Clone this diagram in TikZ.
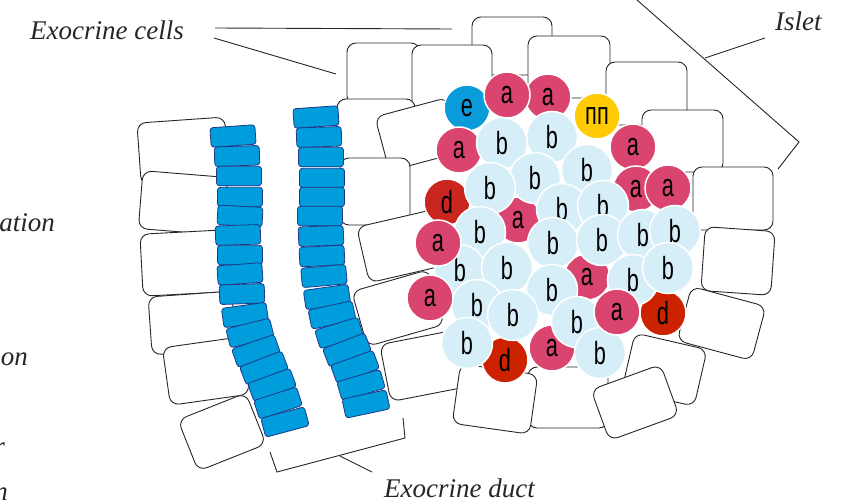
\documentclass[tikz,border=0pt]{standalone}
\usepackage{fontspec}
\newfontfamily\labelfont{Liberation Serif}
\newfontfamily\cellfont[FakeStretch=0.68]{Liberation Sans}

\definecolor{ductblue}{HTML}{009DDC}
\definecolor{ductline}{HTML}{1F3A8A}
\definecolor{alphacol}{HTML}{D9456E}
\definecolor{betacol}{HTML}{D6EEF8}
\definecolor{deltacol}{HTML}{CC2200}
\definecolor{deltadark}{HTML}{C8261E}
\definecolor{epscol}{HTML}{0A9BDA}
\definecolor{ppcol}{HTML}{FFCB05}

\tikzset{
  exo/.style={draw=black!85, fill=white, line width=0.9pt, rounded corners=9pt, inner sep=0pt},
  duct/.style={draw=ductline, fill=ductblue, line width=0.8pt, rounded corners=3pt,
    minimum width=45pt, minimum height=19.5pt, inner sep=0pt},
  isl/.style={circle, draw=white, line width=1.5pt, inner sep=0pt, text=black,
    font=\cellfont\fontsize{32}{32}\selectfont},
  acell/.style={isl, fill=alphacol, minimum size=46pt},
  bcell/.style={isl, fill=betacol, minimum size=51pt},
  dcell/.style={isl, fill=deltacol, minimum size=46pt},
  ddark/.style={isl, fill=deltadark, minimum size=46pt},
  ecell/.style={isl, fill=epscol, minimum size=46pt},
  pcell/.style={isl, fill=ppcol, minimum size=46pt},
  lbl/.style={font=\labelfont\itshape\fontsize{27}{30}\selectfont, text=black!85, inner sep=0pt},
  pointer/.style={draw=black!85, line width=0.9pt}
}

\begin{document}
\begin{tikzpicture}[x=1pt,y=-1pt]
\useasboundingbox (0,0) rectangle (853,503);
\clip (0,0) rectangle (853,503);

% exocrine cells, back to front: x/y/width/height/angle
\foreach \x/\y/\w/\h/\r [count=\i] in {
    183/151/88/62/4, 183/203/85/58/-4.6, 184/263/85/62/3, 192/323/84/58/4,
    206/371/80/58/8, 222/432/73/55/21.7,
    512/46/80/58/0, 383.5/74/73/62/0, 452/78/80/66/0, 569/67/82/62/0,
    646.5/93.5/81/63/0, 682.5/141/81/62/0, 733/198.5/80/63/0, 738/261/70/64/-4,
    664.5/369.6/74/58/-13, 721.5/323.5/77/56/-15, 568/397.5/80/61/0, 635/402.5/74/54/20,
    376/130/78/62/0, 418.4/134.3/75/56/15, 375/191.5/70/67/0, 402/246/80/57/13,
    398/308/80/57/16, 427/365/85/58/11, 495/399/78/60/-8}
  \node[exo, minimum width=\w pt, minimum height=\h pt, rotate=\r] (exo\i) at (\x,\y) {};

% duct walls
\foreach \x/\y/\r [count=\i] in {
    233/136/4, 237/156/2, 239/176/0, 240/197/0, 240/216/-3, 238/235/2,
    240/255/0, 240/274/4, 242/294/2, 245/315/8, 250/333/14, 256/351/19,
    264/368/21, 272/385/20, 278/403/18, 285/422/15}
  \node[duct, rotate=\r] (ld\i) at (\x,\y) {};
\foreach \x/\y/\r [count=\i] in {
    316/117/4, 319/137/2, 321/157/0, 322/178/0, 322/197/0, 320/216/0,
    321/236/2, 322/256/3, 324/276/5, 327/297/8, 332/315/12, 339/333/17,
    347/350/21, 355/367/20, 361/385/16, 366/404/12}
  \node[duct, rotate=\r] (rd\i) at (\x,\y) {};

% islet
\foreach \x/\y/\s/\t [count=\i] in {
    467/108/ecell/e, 548/97/acell/a, 507/95/acell/a, 459/150/acell/a,
    597/116/pcell/пп, 633/147/acell/a, 447/202/ddark/d, 636/189/acell/a,
    668/188/acell/a, 518/220/acell/a, 587/277/acell/a, 663/313/dcell/d,
    505/360/dcell/d, 552/348/acell/a,
    502/143/bcell/b, 552/137/bcell/b, 587/170/bcell/b, 535/178/bcell/b,
    490/188/bcell/b, 562/209/bcell/b, 603/206/bcell/b, 480/232/bcell/b,
    553/243/bcell/b, 602/240/bcell/b, 643/235/bcell/b, 675/231/bcell/b,
    460/270/bcell/b, 507/268/bcell/b, 552/290/bcell/b, 633/280/bcell/b,
    668/268/bcell/b, 477/305/bcell/b, 513/315/bcell/b, 577/322/bcell/b,
    467/343/bcell/b, 600/353/bcell/b,
    438/243/acell/a, 430/298/acell/a, 617/312/acell/a}
  \node[\s] (isl\i) at (\x,\y) {\t};

% labels
\node[lbl, anchor=base west] (cellslbl) at (30,40) {Exocrine cells};
\node[lbl, anchor=base west] (isletlbl) at (775,31) {Islet};
\node[lbl, anchor=base west] (ductlbl) at (384,497) {Exocrine duct};
\node[lbl, anchor=base east] (lbla) at (55,231) {ation};
\node[lbl, anchor=base east] (lblb) at (28,365) {ion};
\node[lbl, anchor=base east] (lblc) at (5,455) {r};
\node[lbl, anchor=base east] (lbld) at (8,500) {n};

% pointers
\coordinate (ec1) at (215,28);  \coordinate (ec2) at (452,29);
\coordinate (ec3) at (214,38);  \coordinate (ec4) at (336,74);
\draw[pointer] (ec1) -- (ec2);
\draw[pointer] (ec3) -- (ec4);

\coordinate (it1) at (637,0);   \coordinate (it2) at (799,142);
\coordinate (it3) at (778,169); \coordinate (it4) at (705,58);
\coordinate (it5) at (765,38);
\draw[pointer] (it1) -- (it2) -- (it3);
\draw[pointer] (it4) -- (it5);

\coordinate (du1) at (270,452); \coordinate (du2) at (277,472);
\coordinate (du3) at (405,438); \coordinate (du4) at (403,418);
\coordinate (du5) at (340,456); \coordinate (du6) at (372,472);
\draw[pointer] (du1) -- (du2) -- (du3) -- (du4);
\draw[pointer] (du5) -- (du6);
\end{tikzpicture}
\end{document}
